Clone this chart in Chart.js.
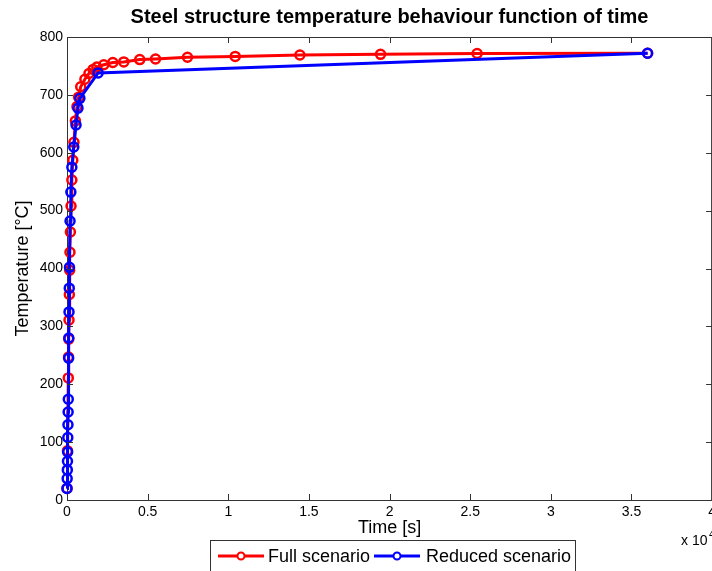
<!DOCTYPE html>
<html>
<head>
<meta charset="utf-8">
<title>Steel structure temperature behaviour</title>
<script src="https://cdn.jsdelivr.net/npm/chart.js@4/dist/chart.umd.min.js"></script>
<style>
  html, body { margin: 0; padding: 0; background: #fff; overflow: hidden; }
  #wrap { width: 720px; height: 571px; }
</style>
</head>
<body>
<div id="wrap"><canvas id="tempChart" width="720" height="571"></canvas></div>
<script>
// Full scenario: time [s] and steel temperature [C]
const fullTime = [0, 30, 80, 95, 110, 125, 145, 165, 185, 210, 250, 300, 360, 430, 520, 620, 720,
  850, 1110, 1360, 1620, 1850, 2280, 2840, 3520, 4510, 5490, 7470, 10430, 14440, 19440, 25430, 36000];
const fullTemp = [20, 85, 211, 247, 278, 311, 355, 397, 428, 463, 508, 553, 587, 618, 655, 680, 696,
  714, 727, 737, 744, 748, 752, 756, 757, 761, 762, 765, 766.5, 769, 770, 771.5, 772];

// Reduced scenario
const reducedTime = [0, 10, 20, 30, 40, 50, 60, 70, 80, 100, 110, 125, 140, 155, 190, 240, 300,
  420, 560, 680, 800, 1930, 36000];
const reducedTemp = [20, 37, 52, 67, 83, 108, 130, 152, 174, 245, 280, 325, 366, 402, 482, 532, 575,
  610, 648, 677, 694, 738, 772];

const seriesNames = ["Full scenario", "Reduced scenario"];
const seriesColors = ["#ff0000", "#0000ff"];

const xTicks = [0, 0.5, 1, 1.5, 2, 2.5, 3, 3.5, 4]; // x 10^4
const yTicks = [0, 100, 200, 300, 400, 500, 600, 700, 800];

function toPoints(xs, ys) {
  return xs.map((x, i) => ({ x: x, y: ys[i] }));
}

const axisColor = "#333333";
const fontFamily = "'Liberation Sans', Arial, sans-serif";

// title, inward ticks, box, exponent label and the framed legend (MATLAB look)
const matlabDecor = {
  id: "matlabDecor",
  afterDraw(chart) {
    const ctx = chart.ctx;
    const area = chart.chartArea;
    const xs = chart.scales.x;
    const ys = chart.scales.y;
    ctx.save();

    // box + tick marks pointing inwards
    ctx.strokeStyle = axisColor;
    ctx.lineWidth = 1;
    ctx.beginPath();
    ctx.moveTo(area.left, area.top + 0.5);
    ctx.lineTo(area.right, area.top + 0.5);
    ctx.moveTo(area.right - 0.5, area.top);
    ctx.lineTo(area.right - 0.5, area.bottom);
    xs.ticks.forEach(t => {
      const px = Math.round(xs.getPixelForValue(t.value)) + 0.5;
      ctx.moveTo(px, area.bottom);
      ctx.lineTo(px, area.bottom - 6);
      ctx.moveTo(px, area.top);
      ctx.lineTo(px, area.top + 6);
    });
    ys.ticks.forEach(t => {
      const py = Math.round(ys.getPixelForValue(t.value)) + 0.5;
      ctx.moveTo(area.left, py);
      ctx.lineTo(area.left + 6, py);
      ctx.moveTo(area.right, py);
      ctx.lineTo(area.right - 6, py);
    });
    ctx.stroke();

    // title
    ctx.fillStyle = "#000";
    ctx.font = "bold 20px " + fontFamily;
    ctx.textAlign = "center";
    ctx.textBaseline = "middle";
    ctx.fillText("Steel structure temperature behaviour function of time", (area.left + area.right) / 2, 17);

    // x 10^4
    ctx.textAlign = "left";
    ctx.font = "14px " + fontFamily;
    ctx.fillText("x 10", 681, 541);
    ctx.font = "10px " + fontFamily;
    ctx.fillText("4", 709, 535);

    // legend
    const boxL = 210.5, boxT = 540.5, boxW = 365, boxH = 40;
    ctx.fillStyle = "#fff";
    ctx.fillRect(boxL, boxT, boxW, boxH);
    ctx.strokeStyle = axisColor;
    ctx.strokeRect(boxL, boxT, boxW, boxH);
    const items = [
      { x0: 218, x1: 264, text: 268 },
      { x0: 374, x1: 420, text: 426 }
    ];
    const ly = 556;
    chart.data.datasets.forEach((ds, i) => {
      const it = items[i];
      ctx.strokeStyle = ds.borderColor;
      ctx.lineWidth = 3;
      ctx.beginPath();
      ctx.moveTo(it.x0, ly);
      ctx.lineTo(it.x1, ly);
      ctx.stroke();
      ctx.lineWidth = 2;
      ctx.fillStyle = "#fff";
      ctx.beginPath();
      ctx.arc((it.x0 + it.x1) / 2, ly, 3.5, 0, Math.PI * 2);
      ctx.fill();
      ctx.stroke();
      ctx.fillStyle = "#000";
      ctx.font = "18px " + fontFamily;
      ctx.textAlign = "left";
      ctx.textBaseline = "middle";
      ctx.fillText(ds.label, it.text, ly + 1);
    });

    ctx.restore();
  }
};

function renderChart() {
  const ctx = document.getElementById("tempChart").getContext("2d");

  new Chart(ctx, {
    type: "line",
    data: {
      datasets: [
        {
          label: seriesNames[0],
          data: toPoints(fullTime, fullTemp),
          borderColor: seriesColors[0],
          backgroundColor: seriesColors[0],
          borderWidth: 3,
          pointRadius: 4.5,
          pointBorderWidth: 2.5,
          pointBackgroundColor: "rgba(0,0,0,0)",
          pointBorderColor: seriesColors[0],
          tension: 0,
          clip: false,
          order: 1
        },
        {
          label: seriesNames[1],
          data: toPoints(reducedTime, reducedTemp),
          borderColor: seriesColors[1],
          backgroundColor: seriesColors[1],
          borderWidth: 3,
          pointRadius: 4.5,
          pointBorderWidth: 2.5,
          pointBackgroundColor: "rgba(0,0,0,0)",
          pointBorderColor: seriesColors[1],
          tension: 0,
          clip: false,
          order: 0
        }
      ]
    },
    options: {
      responsive: false,
      animation: false,
      events: [],
      layout: { padding: { top: 37, right: 5, bottom: 0, left: 0 } },
      plugins: {
        legend: { display: false },
        title: { display: false },
        tooltip: { enabled: false }
      },
      scales: {
        x: {
          type: "linear",
          min: 0,
          max: 40000,
          afterBuildTicks: scale => {
            scale.ticks = xTicks.map(v => ({ value: v * 10000 }));
          },
          afterFit: scale => { scale.height = 71; },
          grid: { display: false, drawTicks: false },
          border: { display: true, color: axisColor, width: 1 },
          ticks: {
            padding: 4,
            maxRotation: 0,
            autoSkip: false,
            color: "#000",
            font: { family: fontFamily, size: 14 },
            callback: v => String(v / 10000)
          },
          title: {
            display: true,
            text: "Time [s]",
            color: "#000",
            font: { family: fontFamily, size: 18 },
            padding: { top: 0, bottom: 32 }
          }
        },
        y: {
          min: 0,
          max: 800,
          afterBuildTicks: scale => {
            scale.ticks = yTicks.map(v => ({ value: v }));
          },
          afterFit: scale => { scale.width = 67; },
          grid: { display: false, drawTicks: false },
          border: { display: true, color: axisColor, width: 1 },
          ticks: {
            padding: 4,
            color: "#000",
            font: { family: fontFamily, size: 14 }
          },
          title: {
            display: true,
            text: "Temperature [°C]",
            color: "#000",
            font: { family: fontFamily, size: 18 },
            padding: { top: 12, bottom: 0 }
          }
        }
      }
    },
    plugins: [matlabDecor]
  });
}

document.addEventListener("DOMContentLoaded", renderChart);
</script>
</body>
</html>
